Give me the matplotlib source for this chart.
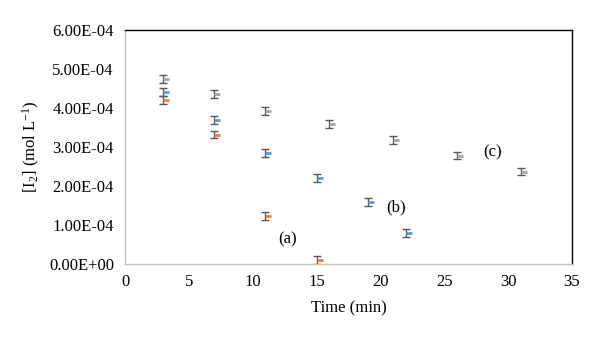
import matplotlib
matplotlib.use("Agg")
import matplotlib.pyplot as plt
from matplotlib.path import Path

plt.rcParams['font.family'] = ['Liberation Serif', 'DejaVu Serif']
plt.rcParams['mathtext.fontset'] = 'custom'
plt.rcParams['mathtext.rm'] = 'Liberation Serif'
plt.rcParams['mathtext.it'] = 'Liberation Serif:italic'
plt.rcParams['mathtext.bf'] = 'Liberation Serif:bold'

# Time (min) and iodine concentration (mol/L) for the three runs
time_a = [3, 7, 11, 15]
conc_a = [4.20e-4, 3.32e-4, 1.23e-4, 0.10e-4]
err_a = [1.0e-5, 1.0e-5, 1.0e-5, 1.0e-5]

time_b = [3, 7, 11, 15, 19, 22]
conc_b = [4.42e-4, 3.70e-4, 2.85e-4, 2.20e-4, 1.58e-4, 0.80e-4]
err_b = [1.0e-5, 1.0e-5, 1.0e-5, 1.0e-5, 1.0e-5, 1.0e-5]

time_c = [3, 7, 11, 16, 21, 26, 31]
conc_c = [4.75e-4, 4.35e-4, 3.93e-4, 3.60e-4, 3.17e-4, 2.78e-4, 2.37e-4]
err_c = [1.0e-5, 1.0e-5, 1.0e-5, 1.0e-5, 1.0e-5, 1.0e-5, 1.0e-5]

y_ticks = [0, 1e-4, 2e-4, 3e-4, 4e-4, 5e-4, 6e-4]
y_tick_labels = ['0.00E+00', '1.00E-04', '2.00E-04', '3.00E-04',
                 '4.00E-04', '5.00E-04', '6.00E-04']
x_ticks = [0, 5, 10, 15, 20, 25, 30, 35]

# short dash marker sitting to the right of the point
dash = Path([(0, 0), (1, 0)], [Path.MOVETO, Path.LINETO])

fig = plt.figure(figsize=(6.0, 3.37), dpi=100)
ax = fig.add_axes([125 / 600, 1 - 264 / 337, (572 - 125) / 600, (264 - 30) / 337])

series = [
    (time_c, conc_c, err_c, '#a5a5a5'),
    (time_b, conc_b, err_b, '#5b9bd5'),
    (time_a, conc_a, err_a, '#ed7d31'),
]
for t, c, e, col in series:
    ax.errorbar(t, c, yerr=e, fmt='none', ecolor='#595959', elinewidth=1.0,
                capsize=3, capthick=1.0, zorder=2)
    ax.plot(t, c, linestyle='none', marker=dash, markersize=9,
            markeredgewidth=2.0, markeredgecolor=col, markerfacecolor='none',
            zorder=3)

ax.text(12.7, 0.62e-4, '(a)', fontsize=12, ha='center', va='center')
ax.text(21.2, 1.44e-4, '(b)', fontsize=12, ha='center', va='center')
ax.text(28.8, 2.85e-4, '(c)', fontsize=12, ha='center', va='center')

ax.set_xlim(0, 35)
ax.set_ylim(0, 6e-4)
ax.set_xticks(x_ticks)
ax.set_xticklabels([str(v) for v in x_ticks])
ax.set_yticks(y_ticks)
ax.set_yticklabels(y_tick_labels)
ax.tick_params(axis='both', labelsize=12, length=0)
ax.tick_params(axis='y', pad=8)
ax.tick_params(axis='x', pad=7)

for side in ('left', 'bottom'):
    ax.spines[side].set_color('#bfbfbf')
    ax.spines[side].set_linewidth(1.0)
for side in ('top', 'right'):
    ax.spines[side].set_color('black')
    ax.spines[side].set_linewidth(1.0)

ax.set_xlabel('Time (min)', fontsize=12, labelpad=8)
ax.set_ylabel(r'[I$_{2}$] (mol L$^{\mathrm{-1}}$)', fontsize=12, labelpad=5)

fig.savefig('out.png', dpi=100, facecolor='white')
